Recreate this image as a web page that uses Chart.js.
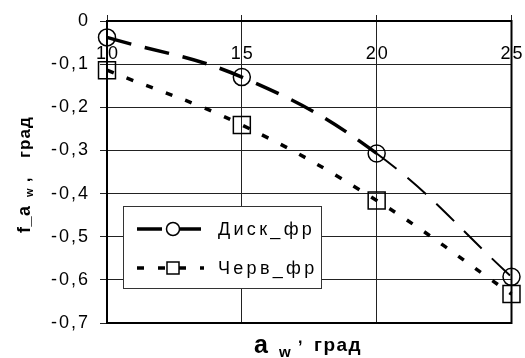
<!DOCTYPE html>
<html>
<head>
<meta charset="utf-8">
<script src="https://cdn.jsdelivr.net/npm/chart.js@4/dist/chart.umd.min.js"></script>
<style>
  body { margin: 0; background: #fff; }
  #wrap { width: 525px; height: 358px; position: relative; }
</style>
</head>
<body>
<div id="wrap"><canvas id="chart"></canvas></div>
<script>
// ---------------- DATA ----------------
const xValues = [10, 15, 20, 25];
const diskValues = [-0.038, -0.13, -0.307, -0.593];
const wormValues = [-0.114, -0.241, -0.416, -0.633];
const seriesNames = ['Диск_фр', 'Черв_фр'];
const xTickLabels = ['10', '15', '20', '25'];

const FONT = "'Liberation Sans', Arial, sans-serif";

function toPoints(values) {
  return xValues.map((x, i) => ({ x: x, y: values[i] }));
}

// labels like -0,3
function commaLabel(v) {
  const r = Math.round(v * 10) / 10;
  if (r === 0) return '0';
  return r.toFixed(1).replace('.', ',');
}

// frame, x labels inside plot, axis titles and legend box
const decorPlugin = {
  id: 'decor',
  beforeDraw(chart) {
    chart.ctx.letterSpacing = '2px';
  },
  afterDraw(chart) {
    const ctx = chart.ctx;
    const area = chart.chartArea;
    const xs = chart.scales.x;

    ctx.save();
    // frame
    ctx.strokeStyle = '#000';
    ctx.lineWidth = 2;
    ctx.strokeRect(area.left, area.top, area.right - area.left, area.bottom - area.top);

    // x tick labels just under the top axis
    ctx.fillStyle = '#000';
    ctx.font = '18px ' + FONT;
    ctx.letterSpacing = '2px';
    ctx.textAlign = 'center';
    ctx.textBaseline = 'middle';
    xValues.forEach((x, i) => {
      ctx.fillText(xTickLabels[i], xs.getPixelForValue(x) + 1, 54);
    });

    // x axis title
    ctx.textAlign = 'left';
    ctx.textBaseline = 'alphabetic';
    ctx.letterSpacing = '0px';
    ctx.font = 'bold 25px ' + FONT;
    ctx.fillText('a', 254, 353);
    ctx.font = 'bold 15px ' + FONT;
    ctx.fillText('w', 279, 357);
    ctx.font = 'bold 16px ' + FONT;
    ctx.fillText(',', 298, 343);
    ctx.letterSpacing = '1.5px';
    ctx.font = 'bold 19px ' + FONT;
    ctx.fillText('град', 314, 351);

    // y axis title (rotated)
    ctx.save();
    ctx.translate(30, 233);
    ctx.rotate(-Math.PI / 2);
    ctx.letterSpacing = '0.5px';
    ctx.font = 'bold 18px ' + FONT;
    ctx.fillText('f_a', 0, 0);
    ctx.font = 'bold 11px ' + FONT;
    ctx.fillText('w', 36, 3);
    ctx.font = 'bold 16px ' + FONT;
    ctx.fillText(',', 51, 0);
    ctx.letterSpacing = '1px';
    ctx.font = 'bold 17px ' + FONT;
    ctx.fillText('град', 75, 0);
    ctx.restore();

    // legend
    const box = { x: 123.5, y: 206.5, w: 198, h: 82 };
    ctx.fillStyle = '#fff';
    ctx.fillRect(box.x, box.y, box.w, box.h);
    ctx.strokeStyle = '#333';
    ctx.lineWidth = 1;
    ctx.strokeRect(box.x, box.y, box.w, box.h);

    const rows = [229, 268];
    chart.data.datasets.forEach((ds, i) => {
      const y = rows[i];
      ctx.save();
      ctx.strokeStyle = '#000';
      ctx.lineWidth = ds.borderWidth;
      ctx.setLineDash(ds.borderDash);
      ctx.beginPath();
      ctx.moveTo(137, y);
      ctx.lineTo(204, y);
      ctx.stroke();
      ctx.restore();
      ctx.save();
      ctx.strokeStyle = '#000';
      ctx.fillStyle = '#fff';
      ctx.lineWidth = 1.5;
      Chart.helpers.drawPoint(ctx, {
        pointStyle: ds.pointStyle,
        radius: ds.pointStyle === 'rect' ? 8.5 : 6.5,
        rotation: 0,
        borderWidth: 1.5
      }, 173, y);
      ctx.restore();
      ctx.fillStyle = '#000';
      ctx.font = '18px ' + FONT;
      ctx.letterSpacing = '3.3px';
      ctx.textAlign = 'left';
      ctx.textBaseline = 'middle';
      ctx.fillText(seriesNames[i], 218, y + 1);
    });
    ctx.restore();
  }
};

const chart = new Chart(document.getElementById('chart'), {
  type: 'line',
  data: {
    datasets: [
      {
        label: seriesNames[0],
        data: toPoints(diskValues),
        borderColor: '#000',
        borderWidth: 3.5,
        borderDash: [25, 14],
        tension: 0.4,
        pointStyle: 'circle',
        pointRadius: 8.5,
        pointBorderWidth: 1.5,
        pointBorderColor: '#000',
        pointBackgroundColor: 'rgba(0,0,0,0)',
        clip: false,
        segment: {
          borderWidth: ctx => ctx.p0DataIndex === 2 ? 2 : 3.5
        }
      },
      {
        label: seriesNames[1],
        data: toPoints(wormValues),
        borderColor: '#000',
        borderWidth: 3.5,
        borderDash: [7, 14],
        tension: 0.4,
        pointStyle: 'rect',
        pointRadius: 12,
        pointBorderWidth: 1.5,
        pointBorderColor: '#000',
        pointBackgroundColor: 'rgba(0,0,0,0)',
        clip: false
      }
    ]
  },
  options: {
    responsive: true,
    maintainAspectRatio: false,
    animation: false,
    layout: { padding: { left: 0, right: 13, top: 0, bottom: 35 } },
    plugins: {
      legend: { display: false },
      tooltip: { enabled: false }
    },
    scales: {
      x: {
        type: 'linear',
        position: 'top',
        min: 10,
        max: 25,
        ticks: { display: false, stepSize: 5 },
        grid: { color: '#222', lineWidth: 1, drawTicks: true, tickLength: 6 },
        border: { color: '#000', width: 2 },
        afterFit: s => { s.height = 21; }
      },
      y: {
        min: -0.7,
        max: 0,
        ticks: {
          stepSize: 0.1,
          color: '#000',
          padding: 10,
          font: { family: FONT, size: 18 },
          callback: v => commaLabel(v)
        },
        grid: { color: '#222', lineWidth: 1, drawTicks: true, tickLength: 7 },
        border: { color: '#000', width: 2 },
        afterFit: s => { s.width = 107; }
      }
    }
  },
  plugins: [decorPlugin]
});
</script>
</body>
</html>
